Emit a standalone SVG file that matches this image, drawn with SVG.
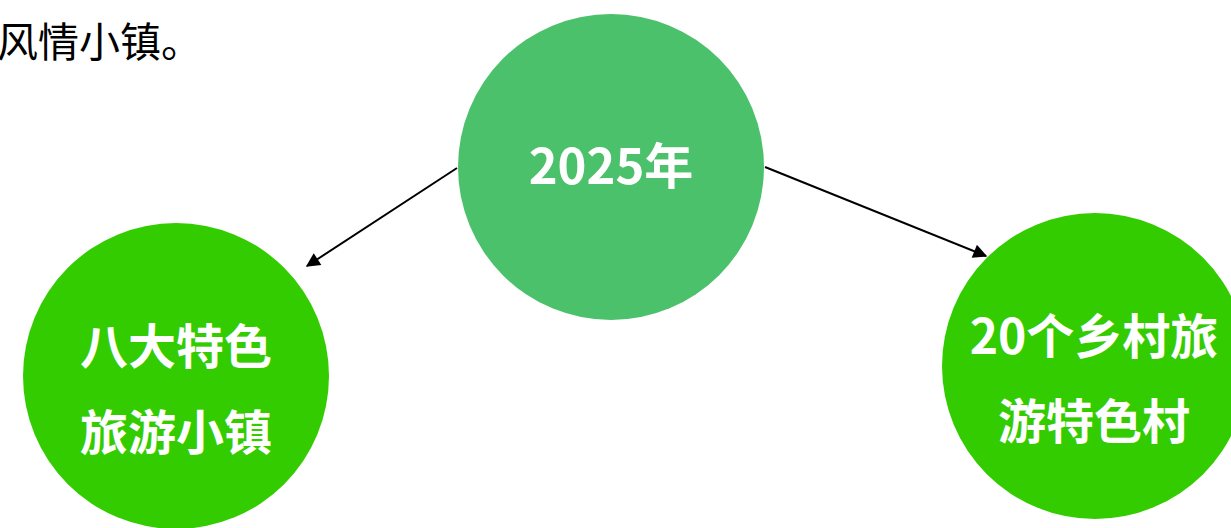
<svg xmlns="http://www.w3.org/2000/svg" width="1231" height="528" viewBox="0 0 1231 528">
<style>
.lbl{fill:#fff;font-family:"Noto Sans CJK SC","Noto Sans",sans-serif;font-weight:bold;text-anchor:middle}
</style>
<defs>
<marker id="arrw" viewBox="0 0 10 10" refX="9" refY="5" markerWidth="20" markerHeight="14" markerUnits="userSpaceOnUse" orient="auto">
<path d="M0,0 L10,5 L0,10 z" fill="#000"/>
</marker>
</defs>
<rect width="1231" height="528" fill="#fff"/>
<text x="-3" y="57" font-family="Noto Sans CJK SC, sans-serif" font-size="41" fill="#000">风情小镇。</text>
<g id="connectors">
<line x1="457" y1="168" x2="307" y2="266" stroke="#000" stroke-width="2" marker-end="url(#arrw)"/>
<line x1="765" y1="167" x2="986" y2="256" stroke="#000" stroke-width="2" marker-end="url(#arrw)"/>
</g>
<g id="node-2025">
<circle cx="611" cy="167" r="153" fill="#4BC16B"/>
<text class="lbl" x="611" y="184" font-size="49">2025年</text>
</g>
<g id="node-towns">
<circle cx="176" cy="376" r="153" fill="#33CC00"/>
<text class="lbl" x="176" y="364" font-size="48">八大特色</text>
<text class="lbl" x="176" y="450" font-size="48">旅游小镇</text>
</g>
<g id="node-villages">
<circle cx="1095" cy="366" r="153" fill="#33CC00"/>
<text class="lbl" x="1094" y="354" font-size="48">20个乡村旅</text>
<text class="lbl" x="1094" y="439" font-size="48">游特色村</text>
</g>
</svg>
